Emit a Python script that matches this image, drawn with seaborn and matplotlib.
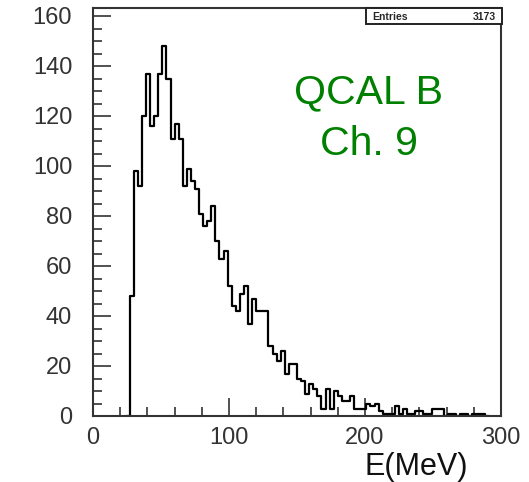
import numpy as np
import pandas as pd
import matplotlib.pyplot as plt
from matplotlib.ticker import MultipleLocator
from matplotlib.patches import Rectangle
import seaborn as sns

# histogram: 3 MeV bins, starting at 24 MeV
bin_width = 3
first_edge = 24
counts = [0,
          48, 98, 92, 120, 137, 116, 120, 137, 148, 135, 111, 117, 111,
          92, 99, 94, 91, 81, 76, 78, 84, 70, 63, 66, 52, 44, 42, 49, 52, 37, 47,
          42, 42, 42, 28, 25, 22, 26, 17, 21, 21, 15, 14, 9, 13, 11,
          8, 3, 11, 3, 10, 8, 6, 6, 8, 3,
          3, 3, 5, 4, 5, 2, 1, 1, 1, 4, 1, 3, 1, 1, 2, 2, 1, 1, 3, 3, 3, 0,
          1, 1, 0, 1, 1, 0, 1, 1, 1, 0]
n_entries = 3173
label_lines = ["QCAL B", "Ch. 9"]
x_label = "E(MeV)"

edges = (first_edge + bin_width * np.arange(len(counts) + 1)).tolist()
df = pd.DataFrame({"E": [e + bin_width / 2 for e in edges[:-1]], "n": counts})

sns.set_style("ticks")
plt.rcParams["font.family"] = ["Liberation Sans", "DejaVu Sans"]

W, H = 529, 482
fig = plt.figure(figsize=(W / 100, H / 100), dpi=100)
# axes frame in pixel terms: left 93, right 501, bottom 416, top 7.5
ax = fig.add_axes([93 / W, 1 - 416 / H, (501 - 93) / W, (416 - 7.5) / H])

sns.histplot(data=df, x="E", weights="n", bins=edges, element="step",
             fill=False, color="black", linewidth=1.6, ax=ax)

ax.set_xlim(0, 300)
ax.set_ylim(0, 163.4)
ax.set_xlabel("")
ax.set_ylabel("")
ax.xaxis.set_major_locator(MultipleLocator(100))
ax.xaxis.set_minor_locator(MultipleLocator(20))
ax.yaxis.set_major_locator(MultipleLocator(20))
ax.yaxis.set_minor_locator(MultipleLocator(5))
ax.tick_params(which="both", direction="in", color="#333333", width=1.2,
               labelsize=17, labelcolor="#333333")
ax.tick_params(which="major", length=13)
ax.tick_params(which="minor", length=6.5)
ax.tick_params(axis="x", pad=8)
ax.tick_params(axis="y", pad=15)
for s in ax.spines.values():
    s.set_visible(True)
    s.set_linewidth(1.5)
    s.set_color("#333333")

# stats box in the top right corner
fig.patches.append(Rectangle((366 / W, 1 - 24 / H), (502 - 366) / W, 16.5 / H,
                             transform=fig.transFigure, facecolor="white",
                             edgecolor="#222222", linewidth=1.4, zorder=5))
fig.text(372 / W, 1 - 20 / H, "Entries", fontsize=7.5, fontweight="bold",
         va="baseline", ha="left", zorder=6)
fig.text(496 / W, 1 - 20 / H, str(n_entries), fontsize=7.5, fontweight="bold",
         va="baseline", ha="right", zorder=6)

# green label
fig.text(369 / W, 1 - 103.5 / H, label_lines[0], fontsize=29.5, color="green",
         ha="center", va="baseline")
fig.text(369 / W, 1 - 155 / H, label_lines[1], fontsize=29.5, color="green",
         ha="center", va="baseline")

fig.text(468 / W, 1 - 475 / H, x_label, fontsize=22, color="#111111",
         ha="right", va="baseline")

fig.savefig("out.png", dpi=100)
